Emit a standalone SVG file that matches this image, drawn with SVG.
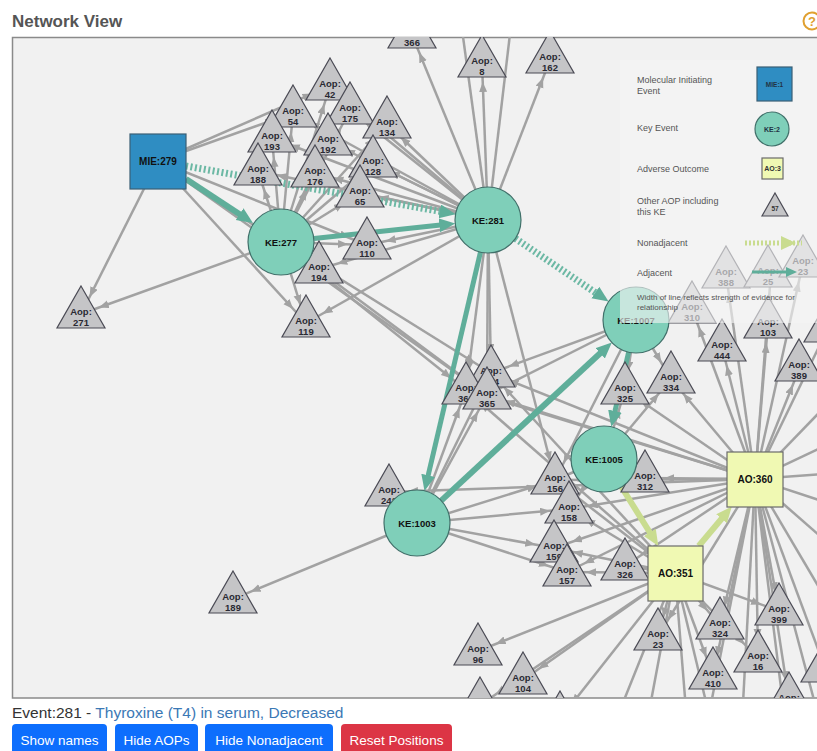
<svg xmlns="http://www.w3.org/2000/svg" xmlns:xlink="http://www.w3.org/1999/xlink" width="817" height="751" viewBox="0 0 817 751">
<style>
.ge path{fill:none;stroke:#a2a2a2;stroke-width:2.5;marker-end:url(#ga)}
.go path{fill:none;stroke:#a2a2a2;stroke-width:2.5}
.tri{fill:#c5c5c7;stroke:#4b4b55;stroke-width:1.2}
.tl{font:bold 9.5px "Liberation Sans",Arial,sans-serif;fill:#2a2a33;text-anchor:middle}
.nl{font:bold 9.5px "Liberation Sans",Arial,sans-serif;fill:#111;text-anchor:middle}
.ke{fill:#7fcfb9;stroke:#41706a;stroke-width:1.2}
.ao{fill:#f0f9b3;stroke:#6a6a6a;stroke-width:1.2}
.mie{fill:#2f8dc2;stroke:#3b5f75;stroke-width:1.2}
.lg{font:9px "Liberation Sans",Arial,sans-serif;fill:#555}
.btn{font:13.5px "Liberation Sans",Arial,sans-serif;fill:#fff;text-anchor:middle}
</style>
<defs>
<clipPath id="panel"><rect x="12" y="37" width="810" height="661"/></clipPath>
<path id="tri" d="M0,0 L24,42 L-24,42 Z"/>
<marker id="ga" markerUnits="userSpaceOnUse" markerWidth="40" markerHeight="10" refX="29" refY="4" orient="auto"><path d="M0,0 L10,4 L0,8 z" fill="#a2a2a2"/></marker>
<marker id="ta" markerUnits="userSpaceOnUse" markerWidth="20" markerHeight="16" refX="6" refY="7" orient="auto"><path d="M0,0 L16,7 L0,14 z" fill="#5fae9a"/></marker>
<marker id="la" markerUnits="userSpaceOnUse" markerWidth="20" markerHeight="16" refX="6" refY="7" orient="auto"><path d="M0,0 L16,7 L0,14 z" fill="#c9dc8f"/></marker>
</defs>
<rect width="817" height="751" fill="#fff"/>
<text x="12" y="27" style="font:bold 17px 'Liberation Sans',Arial,sans-serif;fill:#555">Network View</text>
<g id="help"><circle cx="812" cy="21" r="8.5" fill="none" stroke="#e0a030" stroke-width="2"/><text x="812" y="26" style="font:bold 13px 'Liberation Sans',Arial,sans-serif;fill:#e0a030;text-anchor:middle">?</text></g>
<rect x="12.5" y="37.5" width="810" height="660.5" fill="#f1f1f1" stroke="#8a8a8a" stroke-width="1.5"/>
<g clip-path="url(#panel)">
<g id="connectors">
<g class="ge">
<path d="M158 161L81 314"/><path d="M158 161L306 323"/><path d="M158 161L330 86"/><path d="M158 161L293 113"/><path d="M158 161L319 269"/><path d="M158 161L367 245"/><path d="M158 161L487 395"/>
<path d="M281 242L258 171"/><path d="M281 242L272 138"/><path d="M281 242L315 173"/><path d="M281 242L328 141"/><path d="M281 242L293 113"/><path d="M281 242L330 86"/><path d="M281 242L373 163"/><path d="M281 242L360 193"/><path d="M281 242L350 110"/><path d="M281 242L367 245"/><path d="M281 242L306 323"/><path d="M281 242L81 314"/><path d="M281 242L466 390"/><path d="M281 242L491 373"/><path d="M281 242L487 395"/><path d="M281 242L387 124"/>
<path d="M488 220L412 35"/><path d="M488 220L482 63"/><path d="M488 220L550 60"/><path d="M488 220L330 86"/><path d="M488 220L293 113"/><path d="M488 220L350 110"/><path d="M488 220L387 124"/><path d="M488 220L272 138"/><path d="M488 220L328 141"/><path d="M488 220L373 163"/><path d="M488 220L258 171"/><path d="M488 220L315 173"/><path d="M488 220L360 193"/><path d="M488 220L367 245"/><path d="M488 220L319 269"/><path d="M488 220L306 323"/><path d="M488 220L491 373"/><path d="M488 220L466 390"/><path d="M488 220L487 395"/><path d="M488 220L555 480"/>
<path d="M417 523L233 599"/><path d="M417 523L389 492"/><path d="M417 523L555 480"/><path d="M417 523L569 509"/><path d="M417 523L554 548"/><path d="M417 523L567 572"/><path d="M417 523L466 390"/><path d="M417 523L491 373"/><path d="M417 523L487 395"/>
<path d="M604 459L555 480"/><path d="M604 459L625 390"/><path d="M604 459L569 509"/><path d="M604 459L671 379"/>
<path d="M636 320L625 390"/><path d="M636 320L671 379"/><path d="M636 320L491 373"/><path d="M636 320L487 395"/><path d="M636 320L555 480"/>
<path d="M755 479L645 478"/><path d="M755 479L625 566"/><path d="M755 479L555 480"/><path d="M755 479L569 509"/><path d="M755 479L554 548"/><path d="M755 479L567 572"/><path d="M755 479L466 390"/><path d="M755 479L491 373"/><path d="M755 479L487 395"/><path d="M755 479L625 390"/><path d="M755 479L671 379"/><path d="M755 479L722 347"/><path d="M755 479L768 324"/><path d="M755 479L800 367"/><path d="M755 479L726 274"/><path d="M755 479L771 273"/><path d="M755 479L692 309"/><path d="M755 479L803 263"/><path d="M755 479L779 611"/><path d="M755 479L720 625"/><path d="M755 479L758 658"/><path d="M755 479L713 675"/><path d="M755 479L658 636"/><path d="M755 479L389 492"/><path d="M755 479L789 700"/>
<path d="M675 573L625 566"/><path d="M675 573L567 572"/><path d="M675 573L554 548"/><path d="M675 573L569 509"/><path d="M675 573L555 480"/><path d="M675 573L478 651"/><path d="M675 573L523 680"/><path d="M675 573L658 636"/><path d="M675 573L720 625"/><path d="M675 573L713 675"/><path d="M675 573L779 611"/><path d="M675 573L480 705"/><path d="M675 573L560 719"/><path d="M675 573L758 658"/><path d="M675 573L466 390"/><path d="M675 573L491 373"/>
</g>
<g class="go">
<path d="M488 220L458 0"/><path d="M488 220L514 0"/>
<path d="M755 479L828 328"/><path d="M755 479L825 668"/><path d="M755 479L870 360"/><path d="M755 479L880 420"/><path d="M755 479L880 470"/><path d="M755 479L880 520"/><path d="M755 479L870 580"/><path d="M755 479L850 640"/><path d="M755 479L830 760"/><path d="M755 479L790 760"/><path d="M755 479L740 760"/><path d="M755 479L700 760"/>
<path d="M675 573L600 760"/><path d="M675 573L640 760"/><path d="M675 573L690 760"/><path d="M675 573L720 760"/>
</g>
<g fill="none">
<path d="M186 179L244.6 217.5" stroke="#5fae9a" stroke-width="6" marker-end="url(#ta)"/>
<path d="M186 166L445.7 212.4" stroke="#6cb8a4" stroke-width="7" stroke-dasharray="2 2.5" marker-end="url(#ta)"/>
<path d="M314 238.5L445.3 224.6" stroke="#5fae9a" stroke-width="5" marker-end="url(#ta)"/>
<path d="M515.4 238.5L600.3 295.9" stroke="#6cb8a4" stroke-width="7" stroke-dasharray="2 2.5" marker-end="url(#ta)"/>
<path d="M480.5 252L426.8 481.2" stroke="#5fae9a" stroke-width="5" marker-end="url(#ta)"/>
<path d="M441.2 500.6L604.5 349.2" stroke="#5fae9a" stroke-width="6" marker-end="url(#ta)"/>
<path d="M628.6 352.2L613.6 417" stroke="#5fae9a" stroke-width="5" marker-end="url(#ta)"/>
<path d="M621.5 487L653 537.5" stroke="#c9dc8f" stroke-width="6" marker-end="url(#la)"/>
<path d="M698.7 546L725.4 514.2" stroke="#c9dc8f" stroke-width="6" marker-end="url(#la)"/>
</g>
</g>
<g id="aop-366" transform="translate(412,6)"><use href="#tri" class="tri"/><text class="tl" y="29">Aop:</text><text class="tl" y="40">366</text></g>
<g id="aop-8" transform="translate(482,35)"><use href="#tri" class="tri"/><text class="tl" y="29">Aop:</text><text class="tl" y="40">8</text></g>
<g id="aop-162" transform="translate(550,31)"><use href="#tri" class="tri"/><text class="tl" y="29">Aop:</text><text class="tl" y="40">162</text></g>
<g id="aop-42" transform="translate(330,58)"><use href="#tri" class="tri"/><text class="tl" y="29">Aop:</text><text class="tl" y="40">42</text></g>
<g id="aop-175" transform="translate(350,82)"><use href="#tri" class="tri"/><text class="tl" y="29">Aop:</text><text class="tl" y="40">175</text></g>
<g id="aop-54" transform="translate(293,85)"><use href="#tri" class="tri"/><text class="tl" y="29">Aop:</text><text class="tl" y="40">54</text></g>
<g id="aop-134" transform="translate(387,96)"><use href="#tri" class="tri"/><text class="tl" y="29">Aop:</text><text class="tl" y="40">134</text></g>
<g id="aop-193" transform="translate(272,110)"><use href="#tri" class="tri"/><text class="tl" y="29">Aop:</text><text class="tl" y="40">193</text></g>
<g id="aop-192" transform="translate(328,113)"><use href="#tri" class="tri"/><text class="tl" y="29">Aop:</text><text class="tl" y="40">192</text></g>
<g id="aop-128" transform="translate(373,135)"><use href="#tri" class="tri"/><text class="tl" y="29">Aop:</text><text class="tl" y="40">128</text></g>
<g id="aop-188" transform="translate(258,143)"><use href="#tri" class="tri"/><text class="tl" y="29">Aop:</text><text class="tl" y="40">188</text></g>
<g id="aop-176" transform="translate(315,145)"><use href="#tri" class="tri"/><text class="tl" y="29">Aop:</text><text class="tl" y="40">176</text></g>
<g id="aop-65" transform="translate(360,165)"><use href="#tri" class="tri"/><text class="tl" y="29">Aop:</text><text class="tl" y="40">65</text></g>
<g id="aop-110" transform="translate(367,217)"><use href="#tri" class="tri"/><text class="tl" y="29">Aop:</text><text class="tl" y="40">110</text></g>
<g id="aop-194" transform="translate(319,241)"><use href="#tri" class="tri"/><text class="tl" y="29">Aop:</text><text class="tl" y="40">194</text></g>
<g id="aop-271" transform="translate(81,286)"><use href="#tri" class="tri"/><text class="tl" y="29">Aop:</text><text class="tl" y="40">271</text></g>
<g id="aop-119" transform="translate(306,295)"><use href="#tri" class="tri"/><text class="tl" y="29">Aop:</text><text class="tl" y="40">119</text></g>
<g id="aop-364" transform="translate(491,345)"><use href="#tri" class="tri"/><text class="tl" y="29">Aop:</text><text class="tl" y="40">364</text></g>
<g id="aop-363" transform="translate(466,362)"><use href="#tri" class="tri"/><text class="tl" y="29">Aop:</text><text class="tl" y="40">363</text></g>
<g id="aop-365" transform="translate(487,367)"><use href="#tri" class="tri"/><text class="tl" y="29">Aop:</text><text class="tl" y="40">365</text></g>
<g id="aop-325" transform="translate(625,362)"><use href="#tri" class="tri"/><text class="tl" y="29">Aop:</text><text class="tl" y="40">325</text></g>
<g id="aop-334" transform="translate(671,351)"><use href="#tri" class="tri"/><text class="tl" y="29">Aop:</text><text class="tl" y="40">334</text></g>
<g id="aop-444" transform="translate(722,319)"><use href="#tri" class="tri"/><text class="tl" y="29">Aop:</text><text class="tl" y="40">444</text></g>
<g id="aop-103" transform="translate(768,296)"><use href="#tri" class="tri"/><text class="tl" y="29">Aop:</text><text class="tl" y="40">103</text></g>
<g id="aop-389" transform="translate(799,339)"><use href="#tri" class="tri"/><text class="tl" y="29">Aop:</text><text class="tl" y="40">389</text></g>
<g id="aop-310" transform="translate(692,281)"><use href="#tri" class="tri"/><text class="tl" y="29">Aop:</text><text class="tl" y="40">310</text></g>
<g id="aop-388" transform="translate(726,246)"><use href="#tri" class="tri"/><text class="tl" y="29">Aop:</text><text class="tl" y="40">388</text></g>
<g id="aop-25" transform="translate(768,245)"><use href="#tri" class="tri"/><text class="tl" y="29">Aop:</text><text class="tl" y="40">25</text></g>
<g id="aop-23x" transform="translate(803,235)"><use href="#tri" class="tri"/><text class="tl" y="29">Aop:</text><text class="tl" y="40">23</text></g>
<g id="aop-re1" transform="translate(828,300)"><use href="#tri" class="tri"/></g>
<g id="aop-242" transform="translate(389,464)"><use href="#tri" class="tri"/><text class="tl" y="29">Aop:</text><text class="tl" y="40">242</text></g>
<g id="aop-156" transform="translate(555,452)"><use href="#tri" class="tri"/><text class="tl" y="29">Aop:</text><text class="tl" y="40">156</text></g>
<g id="aop-158" transform="translate(569,481)"><use href="#tri" class="tri"/><text class="tl" y="29">Aop:</text><text class="tl" y="40">158</text></g>
<g id="aop-159" transform="translate(554,520)"><use href="#tri" class="tri"/><text class="tl" y="29">Aop:</text><text class="tl" y="40">159</text></g>
<g id="aop-157" transform="translate(567,544)"><use href="#tri" class="tri"/><text class="tl" y="29">Aop:</text><text class="tl" y="40">157</text></g>
<g id="aop-326" transform="translate(625,538)"><use href="#tri" class="tri"/><text class="tl" y="29">Aop:</text><text class="tl" y="40">326</text></g>
<g id="aop-312" transform="translate(645,450)"><use href="#tri" class="tri"/><text class="tl" y="29">Aop:</text><text class="tl" y="40">312</text></g>
<g id="aop-399" transform="translate(779,583)"><use href="#tri" class="tri"/><text class="tl" y="29">Aop:</text><text class="tl" y="40">399</text></g>
<g id="aop-324" transform="translate(720,597)"><use href="#tri" class="tri"/><text class="tl" y="29">Aop:</text><text class="tl" y="40">324</text></g>
<g id="aop-23" transform="translate(658,608)"><use href="#tri" class="tri"/><text class="tl" y="29">Aop:</text><text class="tl" y="40">23</text></g>
<g id="aop-16" transform="translate(758,630)"><use href="#tri" class="tri"/><text class="tl" y="29">Aop:</text><text class="tl" y="40">16</text></g>
<g id="aop-410" transform="translate(713,647)"><use href="#tri" class="tri"/><text class="tl" y="29">Aop:</text><text class="tl" y="40">410</text></g>
<g id="aop-96" transform="translate(478,623)"><use href="#tri" class="tri"/><text class="tl" y="29">Aop:</text><text class="tl" y="40">96</text></g>
<g id="aop-104" transform="translate(523,652)"><use href="#tri" class="tri"/><text class="tl" y="29">Aop:</text><text class="tl" y="40">104</text></g>
<g id="aop-189" transform="translate(233,571)"><use href="#tri" class="tri"/><text class="tl" y="29">Aop:</text><text class="tl" y="40">189</text></g>
<g id="aop-bl1" transform="translate(480,677)"><use href="#tri" class="tri"/></g>
<g id="aop-bl2" transform="translate(560,691)"><use href="#tri" class="tri"/></g>
<g id="aop-br1" transform="translate(789,672)"><use href="#tri" class="tri"/><text class="tl" y="29">Aop:</text></g>
<g id="aop-re2" transform="translate(825,640)"><use href="#tri" class="tri"/></g>
<g id="mie-279"><rect x="130" y="134" width="56" height="55" class="mie"/><text class="nl" x="158" y="165" style="font-size:10px">MIE:279</text></g>
<g id="ke-277"><circle cx="281" cy="242" r="33" class="ke"/><text class="nl" x="281" y="245.5">KE:277</text></g>
<g id="ke-281"><circle cx="488" cy="220" r="33" class="ke"/><text class="nl" x="488" y="223.5">KE:281</text></g>
<g id="ke-1007"><circle cx="636" cy="320" r="33" class="ke"/><text class="nl" x="636" y="323.5">KE:1007</text></g>
<g id="ke-1005"><circle cx="604" cy="459" r="33" class="ke"/><text class="nl" x="604" y="462.5">KE:1005</text></g>
<g id="ke-1003"><circle cx="417" cy="523" r="33" class="ke"/><text class="nl" x="417" y="526.5">KE:1003</text></g>
<g id="ao-360"><rect x="727" y="452" width="56" height="55" class="ao"/><text class="nl" x="755" y="483" style="font-size:10px">AO:360</text></g>
<g id="ao-351"><rect x="648" y="546" width="55" height="55" class="ao"/><text class="nl" x="675.5" y="577" style="font-size:10px">AO:351</text></g>
<g id="legend">
<rect x="620" y="60" width="200" height="263" fill="#f3f3f3" fill-opacity="0.62"/>
<text class="lg" x="637" y="83">Molecular Initiating</text><text class="lg" x="637" y="94">Event</text>
<rect x="757" y="67" width="35" height="34" class="mie"/><text x="774.5" y="86.5" style="font:bold 6.5px 'Liberation Sans',Arial,sans-serif;fill:#234;text-anchor:middle">MIE:1</text>
<text class="lg" x="637" y="131">Key Event</text>
<circle cx="772" cy="129" r="17" class="ke"/><text x="772" y="131.5" style="font:bold 7px 'Liberation Sans',Arial,sans-serif;fill:#234;text-anchor:middle">KE:2</text>
<text class="lg" x="637" y="172">Adverse Outcome</text>
<rect x="762" y="158" width="21" height="21" class="ao"/><text x="772.5" y="171" style="font:bold 7px 'Liberation Sans',Arial,sans-serif;fill:#333;text-anchor:middle">AO:3</text>
<text class="lg" x="637" y="204">Other AOP including</text><text class="lg" x="637" y="215">this KE</text>
<path d="M775,193 L788,216 L762,216 Z" class="tri"/><text x="775" y="211" style="font:bold 6.5px 'Liberation Sans',Arial,sans-serif;fill:#333;text-anchor:middle">57</text>
<text class="lg" x="637" y="246">Nonadjacent</text>
<path d="M745 243H802" stroke="#c9dc8f" stroke-width="5" stroke-dasharray="2 2"/><path d="M781,236 L796,243 L781,250 Z" fill="#c9dc8f"/>
<text class="lg" x="637" y="276">Adjacent</text>
<path d="M752 272H790" stroke="#5fae9a" stroke-width="3"/><path d="M786,267 L797,272 L786,277 Z" fill="#5fae9a"/>
<text class="lg" x="637" y="300" style="font-size:8px">Width of line reflects strength of evidence for</text><text class="lg" x="637" y="310" style="font-size:8px">relationship</text>
</g>
</g>
<text x="12" y="718" style="font:15.5px 'Liberation Sans',Arial,sans-serif;fill:#333">Event:281 - <tspan fill="#3b78b5">Thyroxine (T4) in serum, Decreased</tspan></text>
<g id="buttons">
<rect x="12" y="724" width="95" height="34" rx="4" fill="#0d6efd"/><text class="btn" x="59.5" y="745">Show names</text>
<rect x="115" y="724" width="83" height="34" rx="4" fill="#0d6efd"/><text class="btn" x="156.5" y="745">Hide AOPs</text>
<rect x="205" y="724" width="128" height="34" rx="4" fill="#0d6efd"/><text class="btn" x="269" y="745">Hide Nonadjacent</text>
<rect x="341" y="724" width="111" height="34" rx="4" fill="#dc3545"/><text class="btn" x="396.5" y="745">Reset Positions</text>
</g>
</svg>
